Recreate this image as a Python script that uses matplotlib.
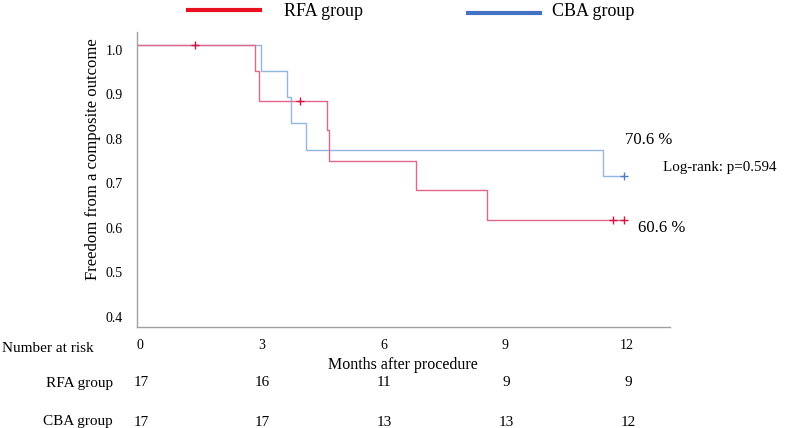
import numpy as np
import matplotlib
matplotlib.use("Agg")
import matplotlib.pyplot as plt
from matplotlib.lines import Line2D
from matplotlib.transforms import ScaledTranslation, blended_transform_factory

plt.rcParams['font.family'] = ['Liberation Serif', 'DejaVu Serif']

# Kaplan-Meier steps
rfa_t = [0, 2.9, 3.0, 4.68, 4.73, 6.87, 8.62, 12.0]
rfa_s = [1.0, 0.941, 0.875, 0.808, 0.740, 0.673, 0.606, 0.606]
rfa_cens_t = [1.43, 4.01, 11.72, 12.0]
rfa_cens_s = [1.0, 0.875, 0.606, 0.606]

cba_t = [0, 3.05, 3.69, 3.79, 4.16, 11.48, 12.0]
cba_s = [1.0, 0.941, 0.882, 0.824, 0.765, 0.706, 0.706]
cba_cens_t = [12.0]
cba_cens_s = [0.706]

months = [0, 3, 6, 9, 12]
risk_rfa = [17, 16, 11, 9, 9]
risk_cba = [17, 17, 13, 13, 12]
yticks = [0.4, 0.5, 0.6, 0.7, 0.8, 0.9, 1.0]

red_line = '#e2668a'
red_mark = '#d4143f'
blue_line = '#94b6e2'
blue_mark = '#4a7cc8'

fig = plt.figure(figsize=(7.87, 4.28), dpi=100)
ax = fig.add_axes([0.174, 0.236, 0.677, 0.689])

ax.step(cba_t, cba_s, where='post', color=blue_line, lw=1.0)
ax.plot(cba_cens_t, cba_cens_s, '+', color=blue_mark, ms=6, mew=1.0)
ax.step(rfa_t, rfa_s, where='post', color=red_line, lw=1.0)
ax.plot(rfa_cens_t, rfa_cens_s, '+', color=red_mark, ms=6, mew=1.0)

ax.set_xlim(0, 13.13)
ax.set_ylim(0.366, 1.029)
ax.set_yticks(yticks)
ax.set_yticklabels(['%.1f' % v for v in yticks], fontsize=10)
ax.set_xticks(months)
ax.set_xticklabels([str(m) for m in months], fontsize=10)
ax.tick_params(axis='y', length=0, pad=10)
ax.tick_params(axis='x', length=0, pad=9)
for lab in ax.get_yticklabels():
    lab.set_transform(lab.get_transform() + ScaledTranslation(0, -0.05, fig.dpi_scale_trans))
for lab in ax.get_xticklabels():
    lab.set_transform(lab.get_transform() + ScaledTranslation(0.03, 0, fig.dpi_scale_trans))

for s in ['top', 'right']:
    ax.spines[s].set_visible(False)
for s in ['left', 'bottom']:
    ax.spines[s].set_color('#a0a0a0')
    ax.spines[s].set_linewidth(1.0)

ax.set_ylabel('Freedom from a composite outcome', fontsize=12)
ax.yaxis.set_label_coords(-0.068, 0.57)
ax.set_xlabel('Months after procedure', fontsize=11.5, labelpad=3)

# end-of-curve annotations
ax.text(12.61, 0.787, '70.6 %', fontsize=12, ha='center', va='center')
ax.text(12.96, 0.724, 'Log-rank: p=0.594', fontsize=10.8, ha='left', va='center')
ax.text(12.34, 0.589, '60.6 %', fontsize=12, ha='left', va='center')

# number at risk table
tr = blended_transform_factory(ax.transData, fig.transFigure)
fig.text(2 / 787, 1 - 349 / 428, 'Number at risk', fontsize=11, ha='left', va='center')
fig.text(113 / 787, 1 - 383 / 428, 'RFA group', fontsize=11, ha='right', va='center')
fig.text(113 / 787, 1 - 422 / 428, 'CBA group', fontsize=11, ha='right', va='center')
for m, a, b in zip(months, risk_rfa, risk_cba):
    ax.text(m + 0.1, 1 - 383 / 428, str(a), transform=tr, fontsize=11, ha='center', va='center')
    ax.text(m + 0.1, 1 - 422 / 428, str(b), transform=tr, fontsize=11, ha='center', va='center')

# legend at top
fig.add_artist(Line2D([188 / 787, 260 / 787], [1 - 10 / 428] * 2, color='#e8101e', lw=3))
fig.text(284 / 787, 1 - 11 / 428, 'RFA group', fontsize=13, ha='left', va='center')
fig.add_artist(Line2D([468 / 787, 540 / 787], [1 - 13 / 428] * 2, color='#4472c4', lw=3))
fig.text(552 / 787, 1 - 11 / 428, 'CBA group', fontsize=13, ha='left', va='center')

fig.savefig('out.png', dpi=100)
